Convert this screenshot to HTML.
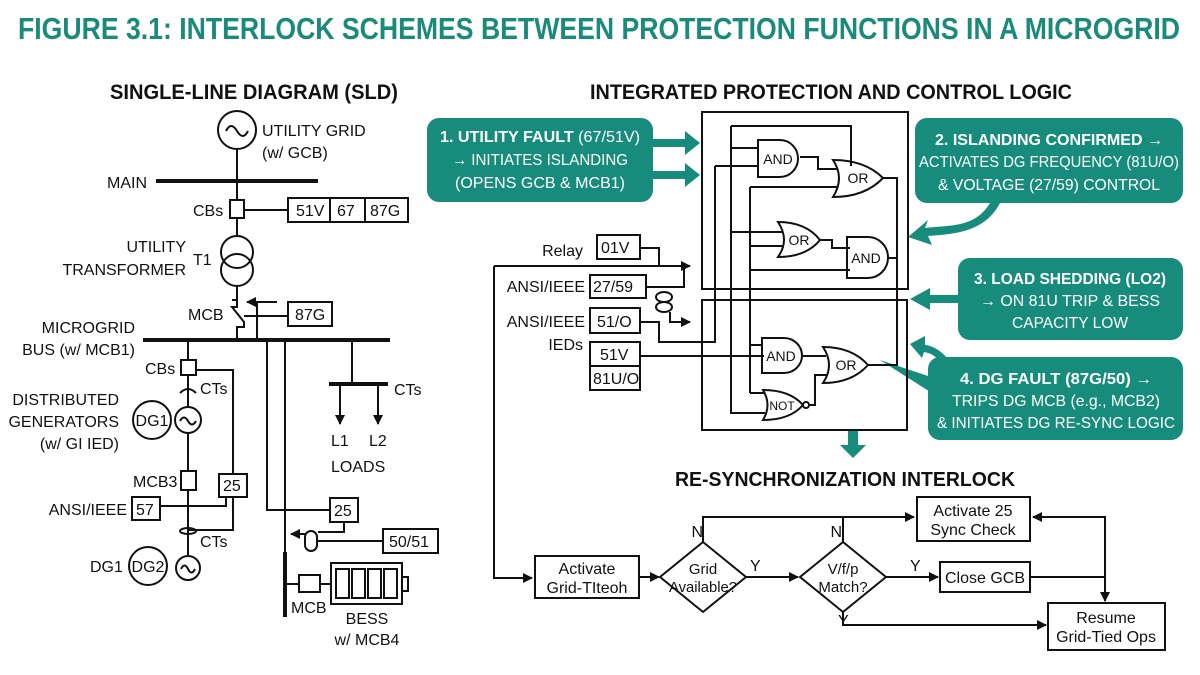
<!DOCTYPE html>
<html><head><meta charset="utf-8"><style>
html,body{margin:0;padding:0;background:#fff;}
svg{display:block;}
text{font-family:"Liberation Sans Narrow","Liberation Sans",sans-serif;fill:#111;}
.t{font-size:16px;}
.b{font-weight:bold;}
.w{fill:#fff;}
.g{font-size:14px;}
</style></head><body>
<svg width="1200" height="675" viewBox="0 0 1200 675" xmlns="http://www.w3.org/2000/svg">
<defs>
<marker id="ah" markerWidth="10" markerHeight="10" refX="9" refY="5" orient="auto" markerUnits="userSpaceOnUse"><path d="M0,0 L10,5 L0,10 z" fill="#111"/></marker>
</defs>
<text x="18" y="39" class="b" style="font-size:31px;fill:#1a8a7a" textLength="1162" lengthAdjust="spacingAndGlyphs">FIGURE 3.1: INTERLOCK SCHEMES BETWEEN PROTECTION FUNCTIONS IN A MICROGRID</text>

<!-- LEFT SLD -->
<text x="110" y="99" class="b" style="font-size:21px" textLength="288" lengthAdjust="spacingAndGlyphs">SINGLE-LINE DIAGRAM (SLD)</text>
<g stroke="#111" stroke-width="2" fill="none">
<circle cx="237" cy="130" r="19"/>
<path d="M226,131 q5,-10 11,0 q6,10 11,0"/>
<line x1="237" y1="149" x2="237" y2="200"/>
<line x1="156" y1="181" x2="318" y2="181" stroke-width="4"/>
<rect x="230" y="200" width="14" height="18"/>
<line x1="244" y1="210" x2="288" y2="210"/>
<rect x="288" y="198" width="120" height="24"/>
<line x1="330" y1="198" x2="330" y2="222"/><line x1="365" y1="198" x2="365" y2="222"/>
<line x1="237" y1="218" x2="237" y2="236"/>
<circle cx="237" cy="252" r="16"/><circle cx="237" cy="270" r="16"/>
<line x1="237" y1="286" x2="237" y2="300"/>
<path d="M232,300 L237,300 L237,307 L232,307 L244,322 L244,327 L239,327 L237,327 L237,340"/>
<path d="M277,302 L257,302 L257,340" />
<line x1="257" y1="302" x2="247" y2="302" marker-end="url(#ah)"/>
<path d="M244,316 L257,316"/>
<rect x="288" y="302" width="44" height="24"/>
<line x1="257" y1="316" x2="288" y2="316"/>
<line x1="143" y1="340" x2="390" y2="340" stroke-width="4"/>
<line x1="188" y1="340" x2="188" y2="360"/>
<rect x="181" y="360" width="15" height="15"/>
<path d="M196,370 L233,370 L233,474"/>
<line x1="188" y1="375" x2="188" y2="407"/>
<path d="M180,393 q8,-8 16,0"/>
<circle cx="152" cy="420" r="19"/>
<circle cx="188" cy="420" r="13"/>
<path d="M180,421 q4,-7 8,0 q4,7 8,0"/>
<line x1="188" y1="433" x2="188" y2="471"/>
<rect x="181" y="471" width="15" height="19"/>
<rect x="219" y="474" width="28" height="23"/>
<line x1="188" y1="490" x2="188" y2="555"/>
<rect x="132" y="497" width="28" height="23"/>
<path d="M160,506 L226,506 L226,497"/>
<ellipse cx="188" cy="531" rx="8" ry="3"/>
<path d="M188,530 L233,530 L233,497"/>
<circle cx="148" cy="566" r="19"/>
<circle cx="188" cy="568" r="12"/>
<path d="M181,569 q3.5,-7 7,0 q3.5,7 7,0"/>
<path d="M267,340 L267,510 L330,510"/>
<line x1="285" y1="340" x2="285" y2="617"/>
<line x1="285" y1="552" x2="285" y2="617" stroke-width="4"/>
<rect x="330" y="498" width="28" height="24"/>
<path d="M344,522 L344,532 L318,532"/>
<rect x="305" y="531" width="12" height="20" rx="6"/>
<path d="M317,541 L383,541"/>
<line x1="305" y1="534" x2="291" y2="534" marker-end="url(#ah)"/>
<rect x="383" y="529" width="55" height="24"/>
<line x1="285" y1="584" x2="299" y2="584"/>
<rect x="299" y="575" width="21" height="17"/>
<line x1="320" y1="584" x2="331" y2="584"/>
<rect x="331" y="563" width="71" height="41"/>
<rect x="336" y="569" width="13" height="29"/><rect x="352" y="569" width="13" height="29"/><rect x="368" y="569" width="13" height="29"/><rect x="384" y="569" width="13" height="29"/>
<rect x="402" y="577" width="6" height="14"/>
<line x1="352" y1="340" x2="352" y2="384"/>
<line x1="329" y1="384" x2="388" y2="384" stroke-width="4"/>
<line x1="340" y1="384" x2="340" y2="424" marker-end="url(#ah)"/>
<line x1="378" y1="384" x2="378" y2="424" marker-end="url(#ah)"/>
</g>
<g class="t">
<text x="262" y="136">UTILITY GRID</text>
<text x="262" y="158">(w/ GCB)</text>
<text x="107" y="188">MAIN</text>
<text x="193" y="216">CBs</text>
<text x="296" y="216">51V</text><text x="337" y="216">67</text><text x="370" y="216">87G</text>
<text x="186" y="252" text-anchor="end">UTILITY</text>
<text x="186" y="275" text-anchor="end">TRANSFORMER</text>
<text x="193" y="265">T1</text>
<text x="188" y="320">MCB</text>
<text x="295" y="320">87G</text>
<text x="135" y="333" text-anchor="end">MICROGRID</text>
<text x="135" y="355" text-anchor="end">BUS (w/ MCB1)</text>
<text x="145" y="374">CBs</text>
<text x="200" y="394">CTs</text>
<text x="119" y="405" text-anchor="end">DISTRIBUTED</text>
<text x="119" y="427" text-anchor="end">GENERATORS</text>
<text x="119" y="449" text-anchor="end">(w/ GI IED)</text>
<text x="152" y="426" text-anchor="middle">DG1</text>
<text x="133" y="487">MCB3</text>
<text x="223" y="491">25</text>
<text x="127" y="515" text-anchor="end">ANSI/IEEE</text>
<text x="136" y="515">57</text>
<text x="200" y="547">CTs</text>
<text x="90" y="572">DG1</text>
<text x="148" y="572" text-anchor="middle">DG2</text>
<text x="334" y="516">25</text>
<text x="389" y="547">50/51</text>
<text x="291" y="613">MCB</text>
<text x="367" y="624" text-anchor="middle">BESS</text>
<text x="367" y="645" text-anchor="middle">w/ MCB4</text>
<text x="394" y="395">CTs</text>
<text x="331" y="446">L1</text><text x="369" y="446">L2</text>
<text x="331" y="472">LOADS</text>
</g>

<!-- RIGHT LOGIC -->
<text x="590" y="99" class="b" style="font-size:21px" textLength="482" lengthAdjust="spacingAndGlyphs">INTEGRATED PROTECTION AND CONTROL LOGIC</text>
<g fill="#178c7c">
<rect x="427" y="118" width="226" height="84" rx="12"/>
<path d="M653,139 L685,139 L685,131 L700,143 L685,155 L685,147 L653,147 z"/>
<path d="M653,171 L685,171 L685,163 L700,175 L685,187 L685,179 L653,179 z"/>
<rect x="915" y="118" width="268" height="85" rx="12"/>
<path d="M990,203 C975,228 950,225 925,228 L928,220 L908,237 L932,245 L928,236 C955,234 985,232 1000,203 z"/>
<rect x="958" y="258" width="225" height="82" rx="12"/>
<path d="M958,295 L930,295 L930,288 L910,299 L930,310 L930,303 L958,303 z"/>
<rect x="928" y="357" width="255" height="83" rx="12"/>
<path d="M955,370 C945,350 930,345 925,345 L925,336 L910,344 L922,358 L924,352 C935,354 940,360 945,372 z"/>
<path d="M935,395 L880,360 L940,380 z"/>
<path d="M848,430 L858,430 L858,445 L866,445 L853,458 L840,445 L848,445 z"/>
</g>
<g class="t">
<text x="540" y="142" text-anchor="middle" class="w" textLength="200" lengthAdjust="spacingAndGlyphs"><tspan class="b">1. UTILITY FAULT</tspan> (67/51V)</text>
<text x="540" y="165" text-anchor="middle" class="w" textLength="176" lengthAdjust="spacingAndGlyphs">→ INITIATES ISLANDING</text>
<text x="540" y="188" text-anchor="middle" class="w" textLength="170" lengthAdjust="spacingAndGlyphs">(OPENS GCB &amp; MCB1)</text>
<text x="1049" y="145" text-anchor="middle" class="w b" textLength="228" lengthAdjust="spacingAndGlyphs">2. ISLANDING CONFIRMED →</text>
<text x="1049" y="167" text-anchor="middle" class="w" textLength="260" lengthAdjust="spacingAndGlyphs">ACTIVATES DG FREQUENCY (81U/O)</text>
<text x="1049" y="190" text-anchor="middle" class="w" textLength="222" lengthAdjust="spacingAndGlyphs">&amp; VOLTAGE (27/59) CONTROL</text>
<text x="1070" y="284" text-anchor="middle" class="w b" textLength="192" lengthAdjust="spacingAndGlyphs">3. LOAD SHEDDING (LO2)</text>
<text x="1070" y="306" text-anchor="middle" class="w" textLength="180" lengthAdjust="spacingAndGlyphs">→ ON 81U TRIP &amp; BESS</text>
<text x="1070" y="328" text-anchor="middle" class="w" textLength="116" lengthAdjust="spacingAndGlyphs">CAPACITY LOW</text>
<text x="1056" y="384" text-anchor="middle" class="w b" textLength="192" lengthAdjust="spacingAndGlyphs">4. DG FAULT (87G/50) →</text>
<text x="1056" y="406" text-anchor="middle" class="w" textLength="208" lengthAdjust="spacingAndGlyphs">TRIPS DG MCB (e.g., MCB2)</text>
<text x="1056" y="428" text-anchor="middle" class="w" textLength="238" lengthAdjust="spacingAndGlyphs">&amp; INITIATES DG RE-SYNC LOGIC</text>
</g>
<g stroke="#111" stroke-width="2" fill="none">
<rect x="702" y="112" width="206" height="177"/>
<rect x="702" y="300" width="205" height="130"/>
<path d="M758,140 L780,140 A18,18.5 0 0 1 780,177 L758,177 z"/>
<path d="M833,160 Q845,178 833,197 Q865,197 883,178 Q865,160 833,160 z"/>
<path d="M778,222 Q790,240 778,257 Q806,257 820,240 Q806,222 778,222 z"/>
<path d="M847,237 L868,237 A20,20.5 0 0 1 868,278 L847,278 z"/>
<path d="M762,338 L784,338 A18,17.5 0 0 1 784,373 L762,373 z"/>
<path d="M823,347 Q835,365 823,383 Q852,383 868,365 Q852,347 823,347 z"/>
<path d="M763,390 Q772,405 763,420 Q790,420 803,405 Q790,390 763,390 z"/>
<circle cx="806" cy="405" r="3"/>
<path d="M730,148 L758,148"/>
<path d="M731,126 L851,126 L851,166"/>
<path d="M731,126 L731,413 L765,413"/>
<path d="M715,166 L758,166"/>
<path d="M800,157 L818,157 L818,169 L838,169"/>
<path d="M750,187 L838,187"/>
<path d="M750,187 L750,393"/>
<path d="M883,178 L897,178 L897,258"/>
<path d="M731,232 L782,232"/>
<path d="M750,246 L782,246"/>
<path d="M820,240 L832,240 L832,248 L850,248"/>
<path d="M750,270 L850,270"/>
<path d="M888,258 L897,258 L897,365 L868,365"/>
<path d="M750,345 L762,345"/>
<path d="M750,393 L765,393"/>
<path d="M802,356 L826,356"/>
<path d="M809,405 L815,405 L815,375 L828,375"/>
<path d="M715,166 L715,342 L659,342 L659,322 L640,322"/>
<rect x="597" y="235" width="43" height="24"/>
<rect x="590" y="275" width="56" height="23"/>
<rect x="590" y="308" width="50" height="25"/>
<rect x="590" y="342" width="50" height="48"/>
<line x1="590" y1="366" x2="640" y2="366"/>
<path d="M640,248 L659,248 L659,266"/>
<line x1="494" y1="266" x2="690" y2="266" marker-end="url(#ah)"/>
<path d="M646,287 L684,287 L684,266"/>
<ellipse cx="664" cy="297" rx="8" ry="5"/><ellipse cx="664" cy="307" rx="8" ry="5"/>
<path d="M670,312 L670,322 L690,322" marker-end="url(#ah)"/>
<path d="M640,356 L764,356"/>
<path d="M494,266 L494,578 L532,578" marker-end="url(#ah)"/>
<rect x="535" y="556" width="104" height="42"/>
<line x1="639" y1="577" x2="659" y2="577" marker-end="url(#ah)"/>
<path d="M703,542 L746,577 L703,612 L660,577 z"/>
<line x1="746" y1="577" x2="798" y2="577" marker-end="url(#ah)"/>
<path d="M843,542 L886,577 L843,612 L800,577 z"/>
<line x1="886" y1="577" x2="938" y2="577" marker-end="url(#ah)"/>
<rect x="940" y="562" width="90" height="30"/>
<rect x="917" y="497" width="113" height="44"/>
<path d="M703,542 L703,517 L914,517" marker-end="url(#ah)"/>
<line x1="843" y1="517" x2="843" y2="542"/>
<path d="M1030,577 L1105,577 L1105,601" marker-end="url(#ah)"/>
<path d="M1105,577 L1105,517 L1033,517" marker-end="url(#ah)"/>
<path d="M843,612 L843,625 L1046,625" marker-end="url(#ah)"/>
<rect x="1048" y="603" width="117" height="47"/>
</g>
<text x="845" y="486" text-anchor="middle" class="b" style="font-size:20px" textLength="340" lengthAdjust="spacingAndGlyphs">RE-SYNCHRONIZATION INTERLOCK</text>
<g class="t">
<text x="778" y="164" text-anchor="middle" class="g">AND</text>
<text x="858" y="183" text-anchor="middle" class="g">OR</text>
<text x="799" y="245" text-anchor="middle" class="g">OR</text>
<text x="866" y="263" text-anchor="middle" class="g">AND</text>
<text x="781" y="361" text-anchor="middle" class="g">AND</text>
<text x="846" y="370" text-anchor="middle" class="g">OR</text>
<text x="782" y="410" text-anchor="middle" style="font-size:12px">NOT</text>
<text x="583" y="256" text-anchor="end">Relay</text>
<text x="601" y="253">01V</text>
<text x="585" y="292" text-anchor="end">ANSI/IEEE</text>
<text x="593" y="292">27/59</text>
<text x="585" y="327" text-anchor="end">ANSI/IEEE</text>
<text x="597" y="327">51/O</text>
<text x="583" y="350" text-anchor="end">IEDs</text>
<text x="600" y="360">51V</text>
<text x="593" y="384">81U/O</text>
<text x="587" y="574" text-anchor="middle">Activate</text>
<text x="587" y="593" text-anchor="middle">Grid-TIteoh</text>
<text x="703" y="574" text-anchor="middle" style="font-size:15px">Grid</text>
<text x="703" y="592" text-anchor="middle" style="font-size:15px" textLength="68" lengthAdjust="spacingAndGlyphs">Available?</text>
<text x="843" y="574" text-anchor="middle" style="font-size:15px">V/f/p</text>
<text x="843" y="592" text-anchor="middle" style="font-size:15px">Match?</text>
<text x="985" y="583" text-anchor="middle">Close GCB</text>
<text x="973" y="516" text-anchor="middle">Activate 25</text>
<text x="973" y="535" text-anchor="middle">Sync Check</text>
<text x="1106" y="623" text-anchor="middle">Resume</text>
<text x="1106" y="642" text-anchor="middle">Grid-Tied Ops</text>
<text x="703" y="537" text-anchor="end">N</text>
<text x="842" y="537" text-anchor="end">N</text>
<text x="750" y="571">Y</text>
<text x="910" y="571">Y</text>
<text x="838" y="626">Y</text>
</g>
</svg>
</body></html>
